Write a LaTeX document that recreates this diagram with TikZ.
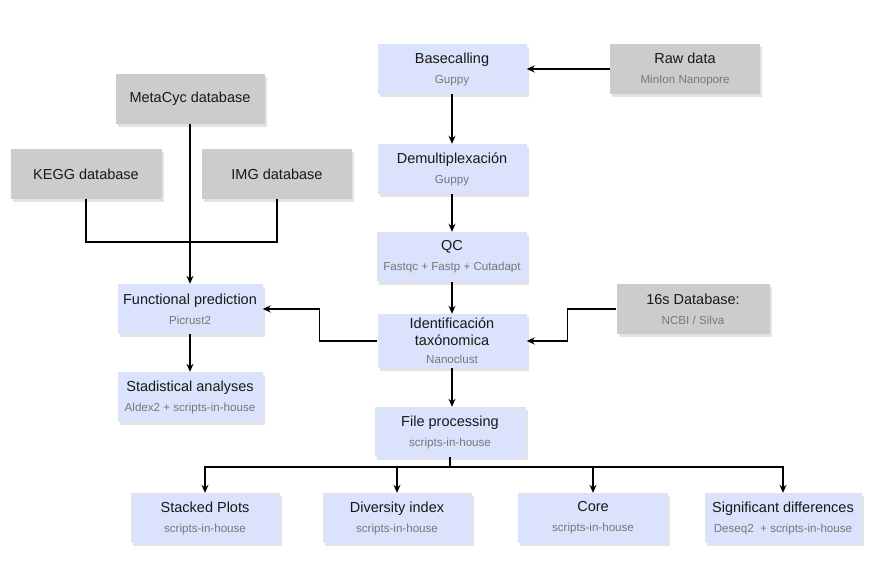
\documentclass[tikz,border=0pt]{standalone}
\usepackage{fontspec}
\setmainfont{Liberation Sans}
\usetikzlibrary{arrows.meta,shadows}

\definecolor{boxblue}{RGB}{218,226,252}
\definecolor{boxgray}{RGB}{204,204,204}
\definecolor{subgray}{RGB}{120,120,120}
\providecommand{\titlefontsize}{\fontsize{14.5}{17}\selectfont}
\providecommand{\subfontsize}{\fontsize{11.6}{15}\selectfont\color{subgray}}

\begin{document}
\begin{tikzpicture}[x=1pt,y=-1pt,
    stepbox/.style={fill=boxblue, minimum width=149pt, minimum height=50pt, inner sep=1pt,
        align=center, font=\titlefontsize, text=black!90,
        drop shadow={shadow xshift=2pt, shadow yshift=-3pt, opacity=.22}},
    databox/.style={stepbox, fill=boxgray},
    flow/.style={-{Stealth[length=8pt,width=7pt]}, line width=1.3pt},
    link/.style={line width=1.3pt}]
    \useasboundingbox (0,0) rectangle (893,579);
    % main pipeline
    \node[stepbox] (basecall) at (452,69) {Basecalling\\[3pt]{\subfontsize Guppy}};
    \node[databox,minimum width=150pt] (rawdata) at (685,69) {Raw data\\[3pt]{\subfontsize MinIon Nanopore}};
    \node[stepbox] (demux) at (452,169) {Demultiplexación\\[3pt]{\subfontsize Guppy}};
    \node[stepbox,minimum width=150pt] (qc) at (452,257) {QC\\[3pt]{\subfontsize Fastqc + Fastp + Cutadapt}};
    \node[stepbox,minimum height=54pt] (taxo) at (452,341) {Identificación\\taxónomica\\[1pt]{\subfontsize Nanoclust}};
    \node[databox,minimum width=153pt] (silva) at (693,309) {16s Database:\\[3pt]{\subfontsize NCBI / Silva}};
    \node[stepbox,minimum width=151pt] (fileproc) at (450,432) {File processing\\[3pt]{\subfontsize scripts-in-house}};
    % functional branch
    \node[databox] (metacyc) at (190,99) {MetaCyc database};
    \node[databox,minimum width=151pt] (kegg) at (86,174) {KEGG database};
    \node[databox,minimum width=150pt] (img) at (277,174) {IMG database};
    \node[stepbox,minimum width=145pt] (func) at (190,309) {Functional prediction\\[3pt]{\subfontsize Picrust2}};
    \node[stepbox,minimum width=145pt] (stats) at (190,397) {Stadistical analyses\\[3pt]{\subfontsize Aldex2 + scripts-in-house}};
    % outputs
    \node[stepbox] (stacked) at (205,518) {Stacked Plots\\[3pt]{\subfontsize scripts-in-house}};
    \node[stepbox] (diversity) at (397,518) {Diversity index\\[3pt]{\subfontsize scripts-in-house}};
    \node[stepbox,minimum width=150pt] (core) at (593,518) {Core\\[3pt]{\subfontsize scripts-in-house}};
    \node[stepbox,minimum width=157pt] (signif) at (783,518) {Significant differences\\[3pt]{\subfontsize Deseq2~ + scripts-in-house}};
    \coordinate (join) at (190,242);
    \coordinate (split) at (450,467);
    \draw[flow] (rawdata) -- (basecall);
    \draw[flow] (basecall) -- (demux);
    \draw[flow] (demux) -- (qc);
    \draw[flow] (qc) -- (taxo);
    \draw[flow] (taxo.south) -- (taxo.south |- fileproc.north);
    \draw[flow] (silva.west) -- ++(-49,0) |- (taxo.east);
    \draw[flow] (taxo.west) -- ++(-58,0) |- (func.east);
    \draw[link] (kegg.south) |- (join) -| (img.south);
    \draw[flow] (metacyc) -- (func);
    \draw[flow] (func) -- (stats);
    \draw[link] (fileproc) -- (split);
    \foreach \n in {stacked,diversity,core,signif}
        \draw[flow] (split) -| (\n);
\end{tikzpicture}
\end{document}
